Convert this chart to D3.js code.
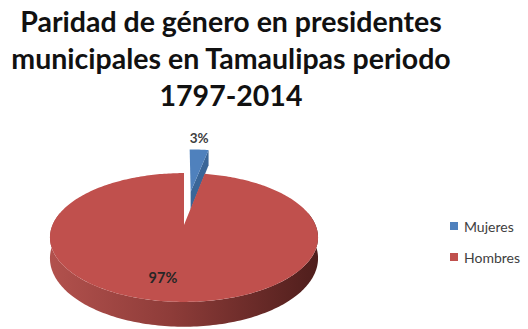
<!DOCTYPE html>
<html>
<head>
<meta charset="utf-8">
<script src="https://cdn.jsdelivr.net/npm/d3@7"></script>
<style>
  body { margin: 0; background: #fff; }
  svg { display: block; }
</style>
</head>
<body>
<div id="chart"></div>
<script>
// data
var titleLines = ["Paridad de género en presidentes", "municipales en Tamaulipas periodo", "1797-2014"];
var categories = ["Mujeres", "Hombres"];
var values = [3, 97];
var explode = [0.6, 0];

var width = 528, height = 329;
var cx = 184, cy = 225;
var persp = 0.194;   // perspective strength
var depth = 20;      // side wall thickness

var color = d3.scaleOrdinal().domain(categories).range(["#4f81bd", "#c0504d"]);
var faceColor = d3.scaleOrdinal().domain(categories).range(["#3a6698", "#8c3533"]);

// unit disc -> screen
var xScale = d3.scaleLinear().domain([-1, 1]).range([cx - 131.5, cx + 131.5]);
var yScale = d3.scaleLinear().domain([-1, 1]).range([cy - 62, cy + 62]);

function project(u, v, h) {
    var w = 1 - persp * v;
    return [xScale(u / w), yScale((v + (h || 0) * depth / 62) / w)];
}

var svg = d3.select("#chart").append("svg")
    .attr("width", width)
    .attr("height", height);

var defs = svg.append("defs");
var grad = defs.append("linearGradient").attr("id", "wallGrad")
    .attr("x1", "0%").attr("x2", "100%").attr("y1", "0%").attr("y2", "0%");
grad.append("stop").attr("offset", "0%").attr("stop-color", "#b2514d");
grad.append("stop").attr("offset", "45%").attr("stop-color", "#8e3c39");
grad.append("stop").attr("offset", "100%").attr("stop-color", "#4f1e1c");

var pie = d3.pie().sort(null).value(function (d) { return d; });
var arcs = pie(values);
var line = d3.line();

function rimPoints(d, off, a0, a1, h) {
    var pts = [];
    var n = Math.max(2, Math.ceil((a1 - a0) / 0.02));
    for (var k = 0; k <= n; k++) {
        var a = a0 + (a1 - a0) * k / n;
        pts.push(project(off[0] + Math.sin(a), off[1] - Math.cos(a), h));
    }
    return pts;
}

function offsetOf(d, i) {
    var mid = (d.startAngle + d.endAngle) / 2;
    return [explode[i] * Math.sin(mid), -explode[i] * Math.cos(mid)];
}

// small exploded slice sits behind, so it goes first
arcs.forEach(function (d, i) {
    var off = offsetOf(d, i);
    var g = svg.append("g").attr("class", "slice");

    // outer wall, front part only
    var w0 = Math.max(d.startAngle, Math.PI / 2 - 0.2);
    var w1 = Math.min(d.endAngle, 3 * Math.PI / 2 + 0.2);
    if (w1 > w0) {
        var top = rimPoints(d, off, w0, w1, 0);
        var bot = rimPoints(d, off, w0, w1, 1).reverse();
        g.append("path")
            .attr("d", line(top.concat(bot)) + "Z")
            .attr("fill", "url(#wallGrad)");
    }

    // cut face at end angle (only seen on the exploded slice)
    if (explode[i] > 0) {
        var a = d.endAngle;
        var quad = [
            project(off[0], off[1], 0),
            project(off[0] + Math.sin(a), off[1] - Math.cos(a), 0),
            project(off[0] + Math.sin(a), off[1] - Math.cos(a), 1),
            project(off[0], off[1], 1)
        ];
        g.append("path")
            .attr("d", line(quad) + "Z")
            .attr("fill", faceColor(categories[i]));
    }

    // top face
    var face = [project(off[0], off[1], 0)].concat(rimPoints(d, off, d.startAngle, d.endAngle, 0));
    g.append("path")
        .attr("d", line(face) + "Z")
        .attr("fill", color(categories[i]));
});

// data labels
var total = d3.sum(values);
arcs.forEach(function (d, i) {
    var off = offsetOf(d, i);
    var mid = (d.startAngle + d.endAngle) / 2;
    var pct = Math.round(values[i] / total * 100) + "%";
    var p;
    if (explode[i] > 0) {
        p = project(off[0] + Math.sin(mid), off[1] - Math.cos(mid), 0);
        svg.append("text")
            .attr("x", p[0]).attr("y", p[1] - 7)
            .attr("text-anchor", "middle")
            .attr("font-family", "Lato, sans-serif")
            .attr("font-weight", "bold")
            .attr("font-size", 13.5)
            .attr("fill", "#404040")
            .text(pct);
    } else {
        p = project(0.74 * Math.sin(mid), -0.74 * Math.cos(mid), 0);
        svg.append("text")
            .attr("x", p[0] + 4).attr("y", p[1] + 5)
            .attr("text-anchor", "end")
            .attr("font-family", "Lato, sans-serif")
            .attr("font-weight", "bold")
            .attr("font-size", 14.5)
            .attr("fill", "#262626")
            .text(pct);
    }
});

// title
svg.append("g").selectAll("text")
    .data(titleLines)
    .enter().append("text")
    .attr("x", 231)
    .attr("y", function (d, i) { return 32 + i * 37; })
    .attr("text-anchor", "middle")
    .attr("font-family", "Lato, sans-serif")
    .attr("font-weight", "bold")
    .attr("font-size", 28.5)
    .attr("fill", "#111")
    .text(function (d) { return d; });

// legend
var legend = svg.append("g").attr("transform", "translate(450,222)");
var item = legend.selectAll("g")
    .data(categories)
    .enter().append("g")
    .attr("transform", function (d, i) { return "translate(0," + (i * 31) + ")"; });
item.append("rect")
    .attr("width", 8).attr("height", 8)
    .attr("fill", function (d) { return color(d); });
item.append("text")
    .attr("x", 14).attr("y", 9.5)
    .attr("font-family", "Lato, sans-serif")
    .attr("font-size", 14)
    .attr("fill", "#404040")
    .text(function (d) { return d; });
</script>
</body>
</html>
